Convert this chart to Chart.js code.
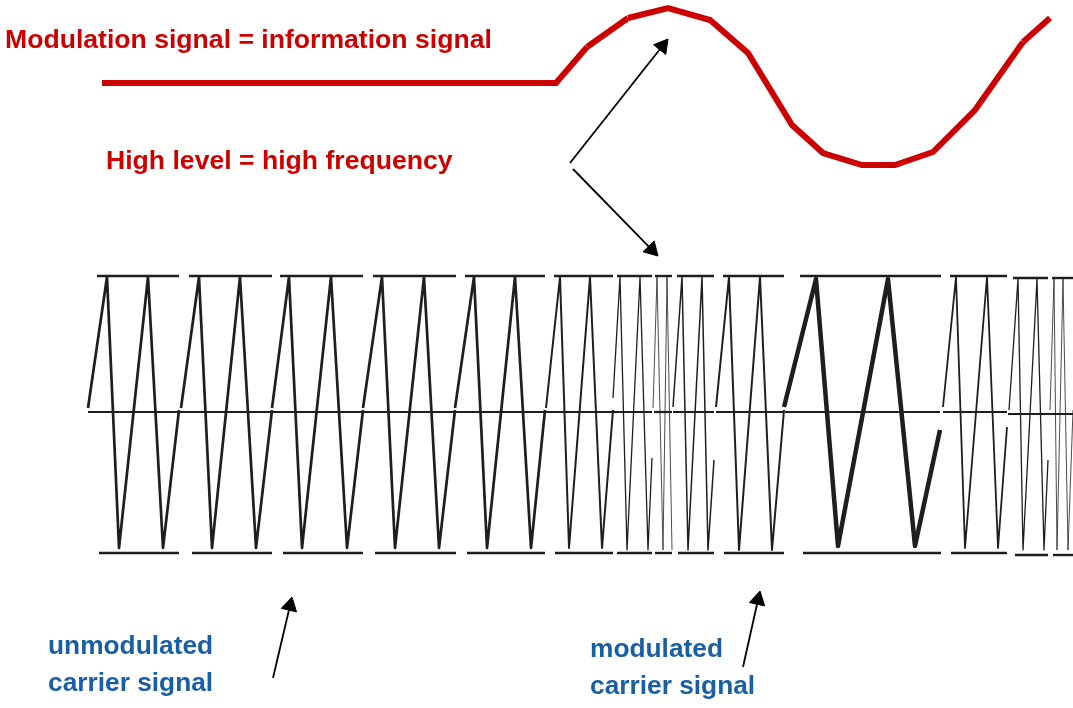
<!DOCTYPE html>
<html>
<head>
<meta charset="utf-8">
<script src="https://cdn.jsdelivr.net/npm/chart.js@4.4.1/dist/chart.umd.min.js"></script>
<style>
  html, body { margin: 0; padding: 0; background: #fff; }
  #wrap { width: 1073px; height: 708px; }
</style>
</head>
<body>
<div id="wrap"><canvas id="c" width="1073" height="708"></canvas></div>
<script>
// FM-Prinzip — Modulationssignal und Träger, gezeichnet mit Chart.js
// Koordinaten in Bildeinheiten (x nach rechts, y nach unten)

// Informationssignal (rot)
const infoX = [102, 556, 587, 628, 668, 710, 748, 792, 823, 862, 895, 933, 975, 1023, 1050];
const infoY = [83, 83, 47, 18, 8, 20, 53, 125, 153, 165, 165, 152, 110, 42, 18];
const infoBreaks = [2, 3, 13]; // Knoten, an denen die Linie neu ansetzt

// Trägersignal: ein Block pro Abschnitt
const carrierX = [
  [88, 107, 119, 148, 163, 179],
  [181, 199, 212, 240, 256, 272],
  [272, 289, 302, 331, 347, 363],
  [363, 382, 395, 424, 439, 455],
  [455, 474, 487, 515, 531, 545],
  [546, 560, 569, 590, 602, 613],
  [613, 620, 627, 640, 648, 652],
  [653, 657, 663, 667, 672],
  [673, 682, 688, 702, 708, 714],
  [716, 729, 739, 760, 772, 784],
  [784, 816, 838, 888, 915, 940],
  [943, 956, 965, 987, 998, 1007],
  [1009, 1018, 1023, 1037, 1044, 1048],
  [1050, 1054, 1057, 1063, 1068, 1073],
];
const carrierY = [
  [408, 277, 548, 277, 548, 410],
  [408, 277, 548, 277, 548, 410],
  [408, 277, 548, 277, 548, 410],
  [408, 277, 548, 277, 548, 410],
  [408, 277, 548, 277, 548, 410],
  [408, 277, 548, 277, 548, 410],
  [398, 277, 550, 277, 550, 458],
  [408, 277, 550, 277, 550],
  [407, 277, 550, 277, 550, 460],
  [407, 277, 550, 277, 550, 410],
  [407, 279, 546, 279, 546, 430],
  [407, 277, 548, 277, 548, 427],
  [410, 279, 550, 279, 550, 460],
  [410, 279, 550, 279, 550, 410],
];
const carrierWidth = [2.7, 2.7, 2.7, 2.7, 2.7, 2, 1.3, 0.8, 1.5, 2, 4.5, 1.8, 1.3, 0.8];

// Begrenzungsbalken oben / unten und Mittellinie
const topBarX = [[97, 179], [189, 272], [280, 363], [373, 456], [465, 545], [554, 613], [617, 652],
  [655, 672], [677, 714], [723, 784], [800, 941], [950, 1007], [1013, 1048], [1052, 1073]];
const topBarY = [276, 276, 276, 276, 276, 276, 276, 276, 276, 276, 276, 276, 278, 278];
const bottomBarX = [[99, 179], [192, 272], [283, 363], [375, 456], [467, 545], [555, 613], [617, 652],
  [655, 672], [678, 714], [724, 784], [803, 941], [951, 1007], [1015, 1048], [1053, 1073]];
const bottomBarY = [553, 553, 553, 553, 553, 553, 553, 553, 553, 553, 553, 553, 555, 555];
const midX = [[88, 545], [546, 652], [654, 672], [673, 714], [716, 784], [785, 940], [943, 1007], [1008, 1073]];
const midY = [412, 412, 412, 412, 412, 412, 412, 414];

// Pfeile: Start und Spitze
const arrowFrom = [[570, 163], [573, 169], [273, 678], [743, 667]];
const arrowTo = [[668, 39], [658, 256], [292, 597], [760, 591]];

// Beschriftungen
const labelText = ['Modulation signal = information signal', 'High level = high frequency',
  'unmodulated', 'carrier signal', 'modulated', 'carrier signal'];
const labelX = [5, 106, 48, 48, 590, 590];
const labelY = [48, 169, 654, 691, 657, 694];
const labelColor = ['#cc0000', '#cc0000', '#1a5fa3', '#1a5fa3', '#1a5fa3', '#1a5fa3'];
const labelSize = [26.6, 26.6, 26.3, 26.3, 26.3, 26.3];

const RED = '#cc0000';
const INK = '#1e1e1e';

function pts(xs, ys) {
  return xs.map((x, i) => ({ x, y: ys[i] }));
}

function lineSet(data, color, width, join) {
  return {
    data,
    showLine: true,
    borderColor: color,
    borderWidth: width,
    borderCapStyle: 'butt',
    borderJoinStyle: join || 'miter',
    pointRadius: 0,
    tension: 0,
  };
}

const datasets = [];

// rote Kurve, an den Knickstellen aufgeteilt
const cuts = [0, ...infoBreaks, infoX.length - 1];
for (let i = 0; i < cuts.length - 1; i++) {
  const xs = infoX.slice(cuts[i], cuts[i + 1] + 1);
  const ys = infoY.slice(cuts[i], cuts[i + 1] + 1);
  datasets.push(lineSet(pts(xs, ys), RED, 6));
}

topBarX.forEach((b, i) => datasets.push(lineSet(pts(b, [topBarY[i], topBarY[i]]), INK, 2.4)));
bottomBarX.forEach((b, i) => datasets.push(lineSet(pts(b, [bottomBarY[i], bottomBarY[i]]), INK, 2.4)));
midX.forEach((b, i) => datasets.push(lineSet(pts(b, [midY[i], midY[i]]), INK, 2.2)));
carrierX.forEach((xs, i) => datasets.push(lineSet(pts(xs, carrierY[i]), INK, carrierWidth[i], 'round')));

// Pfeile mit Dreieck als Spitze
const HEAD = 9;
arrowFrom.forEach((from, i) => {
  const to = arrowTo[i];
  const ang = Math.atan2(to[0] - from[0], -(to[1] - from[1]));
  const cx = to[0] - HEAD * Math.sin(ang);
  const cy = to[1] + HEAD * Math.cos(ang);
  datasets.push({
    data: [{ x: from[0], y: from[1] }, { x: cx, y: cy }],
    showLine: true,
    borderColor: '#000',
    borderWidth: 1.8,
    pointRadius: [0, HEAD],
    pointStyle: 'triangle',
    pointRotation: ang * 180 / Math.PI,
    pointBackgroundColor: '#000',
    pointBorderColor: '#000',
    pointBorderWidth: 1,
  });
});

// Texte an Datenkoordinaten
const textPlugin = {
  id: 'labels',
  afterDatasetsDraw(chart) {
    const { ctx, scales } = chart;
    ctx.save();
    ctx.textBaseline = 'alphabetic';
    ctx.textAlign = 'left';
    labelText.forEach((t, i) => {
      ctx.font = `bold ${labelSize[i]}px "Liberation Sans", Arial, sans-serif`;
      ctx.fillStyle = labelColor[i];
      ctx.fillText(t, scales.x.getPixelForValue(labelX[i]), scales.y.getPixelForValue(labelY[i]));
    });
    ctx.restore();
  },
};

new Chart(document.getElementById('c'), {
  type: 'scatter',
  data: { datasets },
  plugins: [textPlugin],
  options: {
    responsive: false,
    animation: false,
    events: [],
    layout: { padding: 0, autoPadding: false },
    plugins: { legend: { display: false }, tooltip: { enabled: false } },
    scales: {
      x: { type: 'linear', min: 0, max: 1073, display: false },
      y: { type: 'linear', min: 0, max: 708, reverse: true, display: false },
    },
  },
});
</script>
</body>
</html>
